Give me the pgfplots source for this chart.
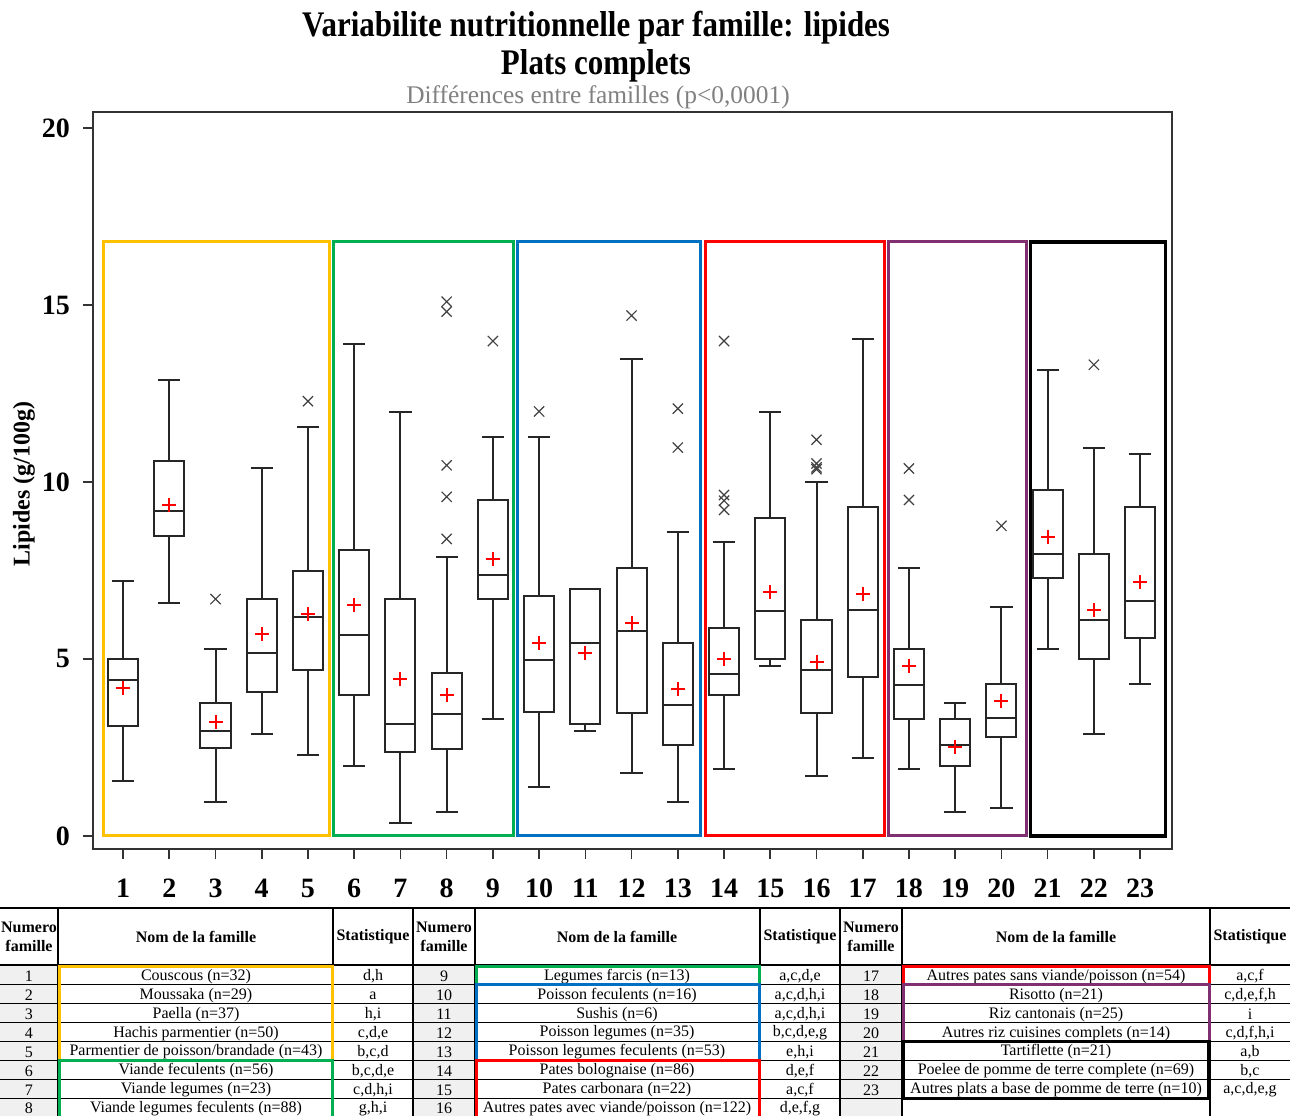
\documentclass[border=0pt]{standalone}
\usepackage{fontspec}
\setmainfont{Liberation Serif}
\newfontfamily\titlefont[FakeStretch=0.86]{Liberation Serif}
\usepackage{pgfplots}
\pgfplotsset{compat=1.18}
\usepgfplotslibrary{statistics}

\definecolor{cYellow}{RGB}{255,192,0}
\definecolor{cGreen}{RGB}{0,176,80}
\definecolor{cBlue}{RGB}{0,112,192}
\definecolor{cRed}{RGB}{255,0,0}
\definecolor{cPurple}{RGB}{128,48,112}
\definecolor{cellgray}{RGB}{240,240,240}

\pgfplotsset{bx/.style={black!85, line width=1pt, mark=x, mark size=3.6pt,
  mark options={line width=0.6pt, black!75},
  boxplot/draw direction=y, boxplot/box extend=0.65, boxplot/whisker extend=0.48}}

\begin{document}
\begin{tikzpicture}
\begin{axis}[
  at={(46.5pt,133pt)}, anchor=south west,
  scale only axis, width=539.5pt, height=368.5pt,
  xmin=0.35, xmax=23.69, ymin=-0.37, ymax=20.45,
  xtick={1,...,23}, ytick={0,5,10,15,20},
  tick align=outside, tick pos=left, major tick length=5pt,
  /pgf/number format/assume math mode=true,
  ticklabel style={font=\bfseries\fontsize{14}{14}\selectfont},
  xticklabel style={yshift=-6.5pt},
  yticklabel style={xshift=-3pt},
  axis line style={line width=0.8pt, black!80},
  tick style={line width=0.8pt, black!80},
  ylabel={Lipides (g/100g)},
  ylabel style={font=\bfseries\fontsize{12}{12}\selectfont, at={(axis description cs:-0.064,0.495)}, anchor=center},
]
% group frames
\draw[cYellow, line width=1.5pt] (axis cs:0.567,0) rectangle (axis cs:5.46,16.78);
\draw[cGreen, line width=1.5pt] (axis cs:5.55,0) rectangle (axis cs:9.44,16.78);
\draw[cBlue, line width=1.5pt] (axis cs:9.53,0) rectangle (axis cs:13.49,16.78);
\draw[cRed, line width=1.5pt] (axis cs:13.60,0) rectangle (axis cs:17.47,16.78);
\draw[cPurple, line width=1.5pt] (axis cs:17.56,0) rectangle (axis cs:20.55,16.78);
\draw[black, line width=1.9pt] (axis cs:20.63,0) rectangle (axis cs:23.55,16.78);

\addplot[bx, boxplot prepared={draw position=1, lower whisker=1.56, lower quartile=3.10, median=4.40, upper quartile=4.99, upper whisker=7.19}] coordinates {};
\addplot[bx, boxplot prepared={draw position=2, lower whisker=6.57, lower quartile=8.47, median=9.19, upper quartile=10.59, upper whisker=12.87}] coordinates {};
\addplot[bx, boxplot prepared={draw position=3, lower whisker=0.97, lower quartile=2.49, median=2.95, upper quartile=3.76, upper whisker=5.29}] table[row sep=\\,y index=0] {data\\ 6.69\\};
\addplot[bx, boxplot prepared={draw position=4, lower whisker=2.87, lower quartile=4.06, median=5.16, upper quartile=6.69, upper whisker=10.38}] coordinates {};
\addplot[bx, boxplot prepared={draw position=5, lower whisker=2.28, lower quartile=4.70, median=6.18, upper quartile=7.49, upper whisker=11.56}] table[row sep=\\,y index=0] {data\\ 12.28\\};
\addplot[bx, boxplot prepared={draw position=6, lower whisker=1.98, lower quartile=3.99, median=5.68, upper quartile=8.08, upper whisker=13.89}] coordinates {};
\addplot[bx, boxplot prepared={draw position=7, lower whisker=0.37, lower quartile=2.36, median=3.17, upper quartile=6.69, upper whisker=11.98}] coordinates {};
\addplot[bx, boxplot prepared={draw position=8, lower whisker=0.67, lower quartile=2.45, median=3.43, upper quartile=4.61, upper whisker=7.87}] table[row sep=\\,y index=0] {data\\ 8.39\\ 9.58\\ 10.47\\ 14.81\\ 15.09\\};
\addplot[bx, boxplot prepared={draw position=9, lower whisker=3.29, lower quartile=6.69, median=7.37, upper quartile=9.48, upper whisker=11.26}] table[row sep=\\,y index=0] {data\\ 13.98\\};
\addplot[bx, boxplot prepared={draw position=10, lower whisker=1.39, lower quartile=3.51, median=4.96, upper quartile=6.77, upper whisker=11.26}] table[row sep=\\,y index=0] {data\\ 11.99\\};
\addplot[bx, boxplot prepared={draw position=11, lower whisker=2.95, lower quartile=3.17, median=5.46, upper quartile=6.98, upper whisker=6.98}] coordinates {};
\addplot[bx, boxplot prepared={draw position=12, lower whisker=1.78, lower quartile=3.47, median=5.79, upper quartile=7.57, upper whisker=13.46}] table[row sep=\\,y index=0] {data\\ 14.70\\};
\addplot[bx, boxplot prepared={draw position=13, lower whisker=0.97, lower quartile=2.58, median=3.69, upper quartile=5.46, upper whisker=8.59}] table[row sep=\\,y index=0] {data\\ 10.97\\ 12.07\\};
\addplot[bx, boxplot prepared={draw position=14, lower whisker=1.89, lower quartile=3.99, median=4.57, upper quartile=5.88, upper whisker=8.29}] table[row sep=\\,y index=0] {data\\ 9.21\\ 9.47\\ 9.63\\ 13.98\\};
\addplot[bx, boxplot prepared={draw position=15, lower whisker=4.79, lower quartile=5.00, median=6.35, upper quartile=8.98, upper whisker=11.98}] coordinates {};
\addplot[bx, boxplot prepared={draw position=16, lower whisker=1.69, lower quartile=3.46, median=4.70, upper quartile=6.09, upper whisker=9.99}] table[row sep=\\,y index=0] {data\\ 10.36\\ 10.41\\ 10.52\\ 11.19\\};
\addplot[bx, boxplot prepared={draw position=17, lower whisker=2.19, lower quartile=4.49, median=6.38, upper quartile=9.28, upper whisker=14.05}] coordinates {};
\addplot[bx, boxplot prepared={draw position=18, lower whisker=1.89, lower quartile=3.30, median=4.27, upper quartile=5.29, upper whisker=7.57}] table[row sep=\\,y index=0] {data\\ 9.49\\ 10.38\\};
\addplot[bx, boxplot prepared={draw position=19, lower whisker=0.67, lower quartile=1.98, median=2.58, upper quartile=3.29, upper whisker=3.75}] coordinates {};
\addplot[bx, boxplot prepared={draw position=20, lower whisker=0.80, lower quartile=2.80, median=3.34, upper quartile=4.28, upper whisker=6.48}] table[row sep=\\,y index=0] {data\\ 8.76\\};
\addplot[bx, boxplot prepared={draw position=21, lower whisker=5.29, lower quartile=7.28, median=7.96, upper quartile=9.78, upper whisker=13.16}] coordinates {};
\addplot[bx, boxplot prepared={draw position=22, lower whisker=2.87, lower quartile=5.00, median=6.09, upper quartile=7.96, upper whisker=10.97}] table[row sep=\\,y index=0] {data\\ 13.31\\};
\addplot[bx, boxplot prepared={draw position=23, lower whisker=4.28, lower quartile=5.60, median=6.65, upper quartile=9.28, upper whisker=10.80}] coordinates {};

% means
\addplot[only marks, mark=+, mark size=3.5pt, red, line width=1pt] coordinates {
(1,4.18) (2,9.35) (3,3.21) (4,5.71) (5,6.27) (6,6.53) (7,4.44) (8,3.98)
(9,7.83) (10,5.46) (11,5.16) (12,6.01) (13,4.14) (14,4.99) (15,6.90) (16,4.92)
(17,6.82) (18,4.81) (19,2.51) (20,3.81) (21,8.43) (22,6.38) (23,7.16)};
\end{axis}

\begin{scope}[yshift=557.5pt, x=0.5pt, y=-0.5pt]
% titles
\node[font=\titlefont\bfseries\fontsize{18}{18}\selectfont] at (596,28) {Variabilite nutritionnelle par famille: lipides};
\node[font=\titlefont\bfseries\fontsize{18}{18}\selectfont] at (596,66) {Plats complets};
\node[font=\fontsize{12.7}{13}\selectfont, text=black!50] at (598,97) {Différences entre familles (p<0,0001)};

\def\rh{18.9}
% table backgrounds
\fill[cellgray] (0,966) rectangle (58,1120);
\fill[cellgray] (413,966) rectangle (475,1120);
\fill[cellgray] (840,966) rectangle (902,1120);
% row lines
\foreach \k in {1,...,6} {
  \draw[black, line width=0.5pt] (0,{966+\rh*\k}) -- (1290,{966+\rh*\k});
}
\draw[black, line width=0.5pt] (0,{966+\rh*7}) -- (902,{966+\rh*7});
\draw[black, line width=1.4pt] (0,908) -- (1290,908);
\draw[black, line width=1.2pt] (0,965) -- (1290,965);
\foreach \c in {58,333,413,475,760,840,902,1210} {
  \draw[black, line width=0.9pt] (\c,908) -- (\c,1120);
}
% headers
\foreach \a/\b/\cc in {29/196/373, 444/617/800, 871/1056/1250} {
  \node[font=\bfseries\fontsize{8}{9.5}\selectfont, align=center] at (\a,937) {Numero\\famille};
  \node[font=\bfseries\fontsize{8}{9.5}\selectfont] at (\b,937) {Nom de la famille};
  \node[font=\bfseries\fontsize{8}{9.5}\selectfont] at (\cc,937) {Statistique};
}
% body
\foreach \n/\nm/\st [count=\i from 0] in {
 1/Couscous (n=32)/{d,h},
 2/Moussaka (n=29)/a,
 3/Paella (n=37)/{h,i},
 4/Hachis parmentier (n=50)/{c,d,e},
 5/Parmentier de poisson\slash brandade (n=43)/{b,c,d},
 6/Viande feculents (n=56)/{b,c,d,e},
 7/Viande legumes (n=23)/{c,d,h,i},
 8/Viande legumes feculents (n=88)/{g,h,i}} {
  \pgfmathsetmacro\yy{966+\rh*(\i+0.5)+1}
  \node[font=\fontsize{8}{9.5}\selectfont] at (29,\yy) {\n};
  \node[font=\fontsize{8}{9.5}\selectfont] at (196,\yy) {\nm};
  \node[font=\fontsize{8}{9.5}\selectfont] at (373,\yy) {\st};
}
\foreach \n/\nm/\st [count=\i from 0] in {
 9/Legumes farcis (n=13)/{a,c,d,e},
 10/Poisson feculents (n=16)/{a,c,d,h,i},
 11/Sushis (n=6)/{a,c,d,h,i},
 12/Poisson legumes (n=35)/{b,c,d,e,g},
 13/Poisson legumes feculents (n=53)/{e,h,i},
 14/Pates bolognaise (n=86)/{d,e,f},
 15/Pates carbonara (n=22)/{a,c,f},
 16/Autres pates avec viande\slash poisson (n=122)/{d,e,f,g}} {
  \pgfmathsetmacro\yy{966+\rh*(\i+0.5)+1}
  \node[font=\fontsize{8}{9.5}\selectfont] at (444,\yy) {\n};
  \node[font=\fontsize{8}{9.5}\selectfont] at (617,\yy) {\nm};
  \node[font=\fontsize{8}{9.5}\selectfont] at (800,\yy) {\st};
}
\foreach \n/\nm/\st [count=\i from 0] in {
 17/Autres pates sans viande\slash poisson (n=54)/{a,c,f},
 18/Risotto (n=21)/{c,d,e,f,h},
 19/Riz cantonais (n=25)/i,
 20/Autres riz cuisines complets (n=14)/{c,d,f,h,i},
 21/Tartiflette (n=21)/{a,b},
 22/Poelee de pomme de terre complete (n=69)/{b,c},
 23/Autres plats a base de pomme de terre (n=10)/{a,c,d,e,g}} {
  \pgfmathsetmacro\yy{966+\rh*(\i+0.5)+1}
  \node[font=\fontsize{8}{9.5}\selectfont] at (871,\yy) {\n};
  \node[font=\fontsize{8}{9.5}\selectfont] at (1056,\yy) {\nm};
  \node[font=\fontsize{8}{9.5}\selectfont] at (1250,\yy) {\st};
}
% coloured group frames in table
\draw[cYellow, line width=1.5pt] (59,966) rectangle (332,{966+5*\rh});
\draw[cGreen, line width=1.5pt] (59,{966+5*\rh}) rectangle (332,1125);
\draw[cGreen, line width=1.5pt] (476,966) rectangle (759,{966+\rh});
\draw[cBlue, line width=1.5pt] (476,{966+\rh}) rectangle (759,{966+5*\rh});
\draw[cRed, line width=1.5pt] (476,{966+5*\rh}) rectangle (759,1125);
\draw[cRed, line width=1.5pt] (903,966) rectangle (1209,{966+\rh});
\draw[cPurple, line width=1.5pt] (903,{966+\rh}) rectangle (1209,{966+4*\rh});
\draw[black, line width=1.8pt] (903,{966+4*\rh}) rectangle (1209,{966+7*\rh});
\end{scope}

\pgfresetboundingbox
\path[use as bounding box] (0,0) rectangle (645pt,557.5pt);
\end{tikzpicture}
\end{document}
